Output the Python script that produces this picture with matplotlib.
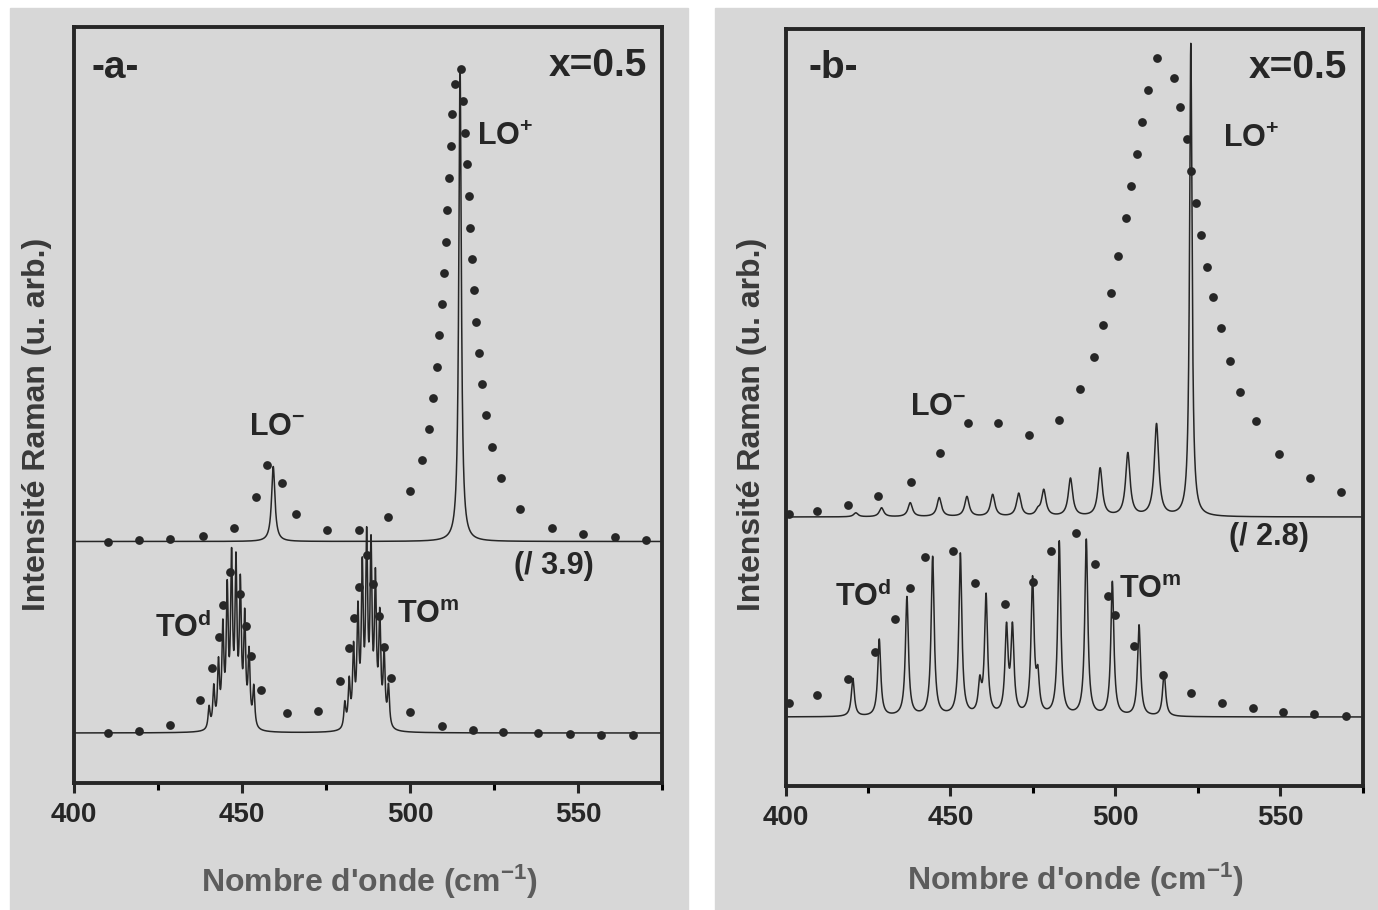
import numpy as np
import matplotlib.pyplot as plt
from matplotlib.patches import Rectangle

plt.rcParams['font.family'] = ['Liberation Sans', 'DejaVu Sans']
plt.rcParams['font.weight'] = 'bold'
plt.rcParams['mathtext.default'] = 'regular'

INK = '#262626'
PAPER = '#d7d7d7'

# ---- panel a : calculated spectra (line positions cm-1, heights, half widths)
A_UP_CENTRES = [459.3, 514.9]
A_UP_HEIGHTS = [75, 474]
A_UP_WIDTHS = [0.6, 0.45]

A_LOW_CENTRES = [440.2, 441.6, 443.0, 444.3, 445.6, 446.9, 448.2, 449.5, 450.8, 452.1, 453.5,
                 480.6, 481.9, 483.2, 484.5, 485.8, 487.1, 488.4, 489.7, 491.0, 492.3, 493.6]
A_LOW_HEIGHTS = [22, 40, 62, 95, 130, 160, 155, 135, 105, 72, 40,
                 25, 45, 75, 110, 150, 178, 170, 140, 105, 70, 40]
A_LOW_WIDTHS = [0.35] * 22

# panel a : measured spectra (dots)
A_UP_DOT_X = [410.0, 419.4, 428.7, 438.3, 447.7, 454.3, 457.5, 461.8, 466.0, 475.4, 484.8,
              493.5, 500.0, 503.6, 505.7, 506.9, 507.9, 508.7, 509.4, 510.0, 510.6, 511.0,
              511.5, 512.1, 512.6, 513.3, 515.1, 515.7, 516.5, 517.0, 517.5, 517.9, 518.5,
              519.0, 519.6, 520.4, 521.5, 522.6, 524.3, 527.0, 532.7, 542.2, 551.4, 561.0, 570.3]
A_UP_DOT_Y = [0, 1.5, 3, 6, 14, 45, 77, 59, 28, 12, 12,
              25, 51, 82, 113, 144, 175, 207, 238, 269, 300, 332,
              364, 396, 428, 458, 473, 441, 409, 378, 346, 314, 283,
              252, 220, 189, 158, 127, 95, 64, 33, 14, 8, 5, 2]

A_LOW_DOT_X = [410.0, 419.3, 428.7, 437.5, 441.2, 443.2, 444.4, 446.4, 449.4, 451.1, 452.7,
               455.7, 463.5, 472.5, 479.2, 481.8, 483.2, 484.8, 487.1, 489.1, 490.7, 492.2,
               494.3, 500.0, 509.4, 518.7, 527.8, 538.2, 547.6, 556.8, 566.3]
A_LOW_DOT_Y = [0, 2, 8, 33, 65, 96, 128, 161, 139, 107, 77,
               43, 20, 22, 52, 85, 115, 146, 178, 149, 117, 86,
               55, 21, 7, 3, 1, 0, -1, -2, -2]

# ---- panel b
B_UP_CENTRES = [421.3, 429.1, 437.8, 446.6, 455.0, 462.8, 470.7, 476.5, 478.3,
                486.4, 495.4, 503.8, 512.5, 522.9]
B_UP_HEIGHTS = [4, 9, 14, 19, 20, 22, 23, 5, 26, 38, 48, 63, 92, 473]
B_UP_WIDTHS = [0.8] * 13 + [0.45]

B_LOW_CENTRES = [420.4, 428.4, 436.8, 444.6, 453.0, 458.9, 460.8, 467.0, 468.8,
                 474.9, 476.5, 483.0, 491.2, 499.1, 507.2, 514.8]
B_LOW_HEIGHTS = [38, 77, 119, 159, 162, 30, 119, 85, 85, 135, 35, 174, 176, 134, 91, 44]
B_LOW_WIDTHS = [0.55] * 16

B_UP_DOT_X = [400.9, 409.4, 419.0, 428.1, 437.9, 446.8, 455.3, 464.5, 473.7, 482.9,
              489.4, 493.4, 496.2, 498.6, 500.9, 503.2, 504.8, 506.5, 508.1, 509.8,
              512.7, 517.9, 519.6, 521.6, 522.9, 524.6, 526.1, 527.7, 529.7, 532.1,
              534.7, 537.7, 542.6, 549.7, 558.9, 568.5]
B_UP_DOT_Y = [3, 6, 12, 21, 35, 64, 94, 94, 82, 97,
              128, 160, 192, 224, 261, 299, 331, 363, 395, 427,
              459, 439, 410, 378, 346, 314, 282, 250, 220, 189,
              156, 125, 96, 63, 39, 25]

B_LOW_DOT_X = [401.1, 409.5, 419.0, 427.2, 433.3, 437.6, 442.4, 450.7, 457.5, 466.4,
               474.9, 480.6, 488.1, 493.7, 497.9, 499.8, 505.8, 514.4, 523.1, 532.4,
               541.7, 550.9, 560.4, 570.0]
B_LOW_DOT_Y = [14, 22, 38, 65, 98, 129, 160, 166, 134, 113,
               135, 166, 184, 153, 121, 102, 71, 42, 24, 14,
               9, 5, 3, 1]

XTICKS = [400, 450, 500, 550]
XMINOR = [425, 475, 525, 575]


def spectrum(x, centres, heights, widths):
    y = np.zeros_like(x)
    for c, h, w in zip(centres, heights, widths):
        y += h * w ** 2 / ((x - c) ** 2 + w ** 2)
    return y


def panel(ax, up, low, dots_up, dots_low, base_up, base_low, ytop):
    x = np.linspace(400, 575, 8001)
    ax.plot(x, base_up + spectrum(x, *up), color=INK, lw=1.1)
    ax.plot(x, base_low + spectrum(x, *low), color=INK, lw=1.1)
    for (dx, dy), base in ((dots_up, base_up), (dots_low, base_low)):
        ax.plot(dx, base + np.array(dy), 'o', ms=6.3, color=INK, mec='none')
    ax.set_xlim(400, 575)
    ax.set_ylim(0, ytop)
    ax.set_facecolor('none')
    ax.set_yticks([])
    ax.set_xticks(XTICKS)
    ax.set_xticks(XMINOR, minor=True)
    ax.tick_params(axis='x', which='major', direction='out', length=7, width=2.2,
                   labelsize=20, pad=7, colors=INK)
    ax.tick_params(axis='x', which='minor', direction='out', length=5, width=2.2)
    for s in ax.spines.values():
        s.set_linewidth(2.8)
        s.set_color(INK)


fig = plt.figure(figsize=(13.78, 9.10), dpi=100)
W, H = 1378, 910
fig.patches.append(Rectangle((10 / W, 0), 678 / W, 902 / H, transform=fig.transFigure,
                             color=PAPER, zorder=-10))
fig.patches.append(Rectangle((715 / W, 0), 663 / W, 902 / H, transform=fig.transFigure,
                             color=PAPER, zorder=-10))

ax_a = fig.add_axes([74 / W, (H - 783) / H, 588 / W, 756 / H])
ax_b = fig.add_axes([785.6 / W, (H - 785.5) / H, 577 / W, 756.5 / H])

panel(ax_a, (A_UP_CENTRES, A_UP_HEIGHTS, A_UP_WIDTHS),
      (A_LOW_CENTRES, A_LOW_HEIGHTS, A_LOW_WIDTHS),
      (A_UP_DOT_X, A_UP_DOT_Y), (A_LOW_DOT_X, A_LOW_DOT_Y), 241.5, 50, 756)
panel(ax_b, (B_UP_CENTRES, B_UP_HEIGHTS, B_UP_WIDTHS),
      (B_LOW_CENTRES, B_LOW_HEIGHTS, B_LOW_WIDTHS),
      (B_UP_DOT_X, B_UP_DOT_Y), (B_LOW_DOT_X, B_LOW_DOT_Y), 268.5, 68.5, 756.5)

big = dict(fontsize=28, fontweight='bold', color=INK, va='center')
lab = dict(fontsize=22, fontweight='bold', color=INK, va='center', ha='left')

ax_a.text(0.070, 0.946, '-a-', transform=ax_a.transAxes, ha='center', **big)
ax_a.text(0.975, 0.949, 'x=0.5', transform=ax_a.transAxes, ha='right', **big)
ax_a.text(519.9, 646, '$LO^{+}$', **lab)
ax_a.text(452.1, 356, '$LO^{-}$', **lab)
ax_a.text(530.9, 217, '(/ 3.9)', **lab)
ax_a.text(424.0, 155, '$TO^{d}$', **lab)
ax_a.text(496.0, 168, '$TO^{m}$', **lab)

ax_b.text(0.083, 0.948, '-b-', transform=ax_b.transAxes, ha='center', **big)
ax_b.text(0.974, 0.948, 'x=0.5', transform=ax_b.transAxes, ha='right', **big)
ax_b.text(532.7, 646.5, '$LO^{+}$', **lab)
ax_b.text(437.6, 378.8, '$LO^{-}$', **lab)
ax_b.text(534.6, 248.8, '(/ 2.8)', **lab)
ax_b.text(415.1, 188.8, '$TO^{d}$', **lab)
ax_b.text(501.0, 195.5, '$TO^{m}$', **lab)

for xc, yc in ((369, 882), (1075, 880)):
    fig.text(xc / W, 1 - yc / H, "Nombre d'onde $(cm^{-1})$", fontsize=23,
             fontweight='bold', color='#5c5c5c', ha='center', va='center')
for xc in (37, 752):
    fig.text(xc / W, 1 - 424 / H, 'Intensité Raman (u. arb.)', fontsize=23,
             fontweight='bold', color='#3a3a3a', ha='center', va='center',
             rotation=90)

fig.savefig('out.png', dpi=100, facecolor='white')
